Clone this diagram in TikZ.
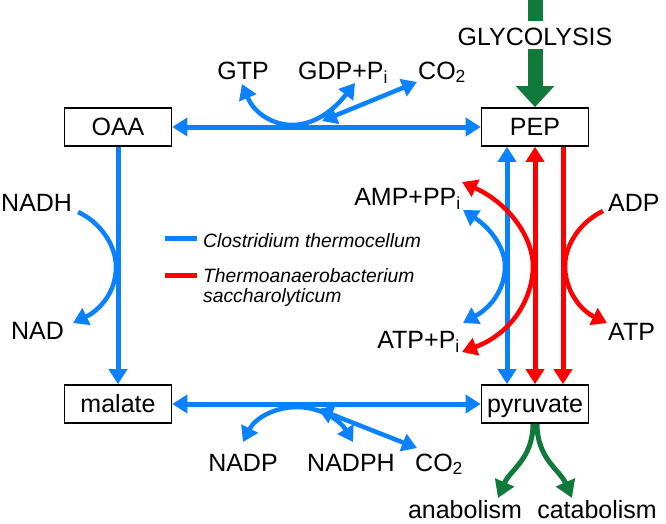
\documentclass[tikz,border=0pt]{standalone}
\usepackage{fontspec}
\setmainfont{Liberation Sans}
\usetikzlibrary{arrows.meta}
\definecolor{cblue}{RGB}{10,130,255}
\definecolor{cred}{RGB}{255,0,0}
\definecolor{cgreen}{RGB}{16,122,58}
\begin{document}
\begin{tikzpicture}[x=1pt,y=-1pt,
  >={Triangle[length=15pt,width=18pt]},
  box/.style={draw=black,line width=1.6pt,minimum width=107pt,minimum height=38pt,inner sep=0pt,text height=17pt,text depth=0pt,font=\fontsize{25}{30}\selectfont},
  lbl/.style={inner sep=0pt,font=\fontsize{25}{30}\selectfont},
  leg/.style={inner sep=0pt,font=\fontsize{19.3}{23}\selectfont\itshape},
  bl/.style={cblue,line width=5pt},
  blc/.style={cblue,line width=4.5pt},
  rd/.style={cred,line width=5pt},
  rdc/.style={cred,line width=4.5pt},
  gr/.style={cgreen,line width=5pt,-{Triangle[length=17pt,width=20pt]}}
]
\useasboundingbox (0,0) rectangle (666,523);
% boxes
\node[box] (oaa) at (118,127) {OAA};
\node[box] (pep) at (535,127) {PEP};
\node[box] (mal) at (118,404) {malate};
\node[box] (pyr) at (535,404) {pyruvate};
% labels
\node[lbl,anchor=base] (gly) at (535,45) {GLYCOLYSIS};
\node[lbl,anchor=base] (gtp) at (243,79) {GTP};
\node[lbl,anchor=base west] (gdp) at (298,79) {GDP+P\textsubscript{i}};
\node[lbl,anchor=base west] (co2a) at (418,79) {CO\textsubscript{2}};
\node[lbl,anchor=base west] (nadh) at (1,211) {NADH};
\node[lbl,anchor=base west] (nad) at (11,339) {NAD};
\node[lbl,anchor=base east] (amp) at (461,205) {AMP+PP\textsubscript{i}};
\node[lbl,anchor=base east] (atppi) at (460,348) {ATP+P\textsubscript{i}};
\node[lbl,anchor=base west] (adp) at (608,211) {ADP};
\node[lbl,anchor=base west] (atp) at (608,340) {ATP};
\node[lbl,anchor=base] (nadp) at (243,471) {NADP};
\node[lbl,anchor=base] (nadph) at (351,471) {NADPH};
\node[lbl,anchor=base west] (co2b) at (415,471) {CO\textsubscript{2}};
\node[lbl,anchor=base] (ana) at (465,518) {anabolism};
\node[lbl,anchor=base] (cata) at (597,518) {catabolism};
% legend
\coordinate (lb1) at (165,238); \coordinate (lb2) at (197,238);
\coordinate (lr1) at (165,275); \coordinate (lr2) at (197,275);
\draw[bl] (lb1) -- (lb2);
\draw[rd] (lr1) -- (lr2);
\node[leg,anchor=base west] (legb) at (203,247) {Clostridium thermocellum};
\node[leg,anchor=base west] (legr1) at (203,282) {Thermoanaerobacterium};
\node[leg,anchor=base west] (legr2) at (203,302) {saccharolyticum};
% main connectors
\draw[bl,<->] (oaa) -- (pep);
\draw[bl,->] (oaa) -- (mal);
\draw[bl,<->] (mal) -- (pyr);
\draw[bl,<->] ([xshift=-28pt]pep.south) -- ([xshift=-28pt]pyr.north);
\draw[rd,<->] (pep.south) -- (pyr.north);
\draw[rd,->] ([xshift=28pt]pep.south) -- ([xshift=28pt]pyr.north);
% glycolysis
\coordinate (gtop) at (535,-2);
\draw[cgreen,line width=15pt] (gtop) -- ([yshift=6pt]gly.north);
\draw[cgreen,line width=15pt,-{Triangle[length=21pt,width=37pt]}] ([yshift=-4pt]gly.south) -- (pep.north);
% top cofactors
\coordinate (t1) at (242,84);
\coordinate (t2) at (355,83);
\coordinate (t3) at (322,121);
\coordinate (t4) at (417,82);
\draw[blc,<->] (t1) .. controls (255,115) and (275,125) .. (292,125) .. controls (310,125) and (330,115) .. (t2);
\draw[blc,<->] (t3) -- (t4);
% bottom cofactors
\coordinate (b1) at (243,442);
\coordinate (b2) at (353,442);
\coordinate (b3) at (318,409);
\coordinate (b4) at (417,448);
\draw[blc,<->] (b1) .. controls (255,418) and (275,407) .. (297,407) .. controls (320,407) and (340,420) .. (b2);
\draw[blc,<->] (b3) -- (b4);
% NADH curve
\coordinate (n1) at (78,212);
\coordinate (n2) at (73,323);
\draw[blc,->] (n1) .. controls (100,222) and (116,245) .. (116,267) .. controls (116,292) and (100,310) .. (n2);
% right curves
\coordinate (ab1) at (463,210);
\coordinate (ab2) at (463,323);
\draw[blc,<->] (ab1) .. controls (493,230) and (505,250) .. (505,266) .. controls (505,285) and (495,305) .. (ab2);
\coordinate (ar1) at (462,182);
\coordinate (ar2) at (462,352);
\draw[rdc,<->] (ar1) .. controls (512,205) and (533,240) .. (533,266) .. controls (533,295) and (515,332) .. (ar2);
\coordinate (dr1) at (603,211);
\coordinate (dr2) at (607,323);
\draw[rdc,->] (dr1) .. controls (580,222) and (565,245) .. (565,266) .. controls (565,290) and (580,310) .. (dr2);
% green bottom
\coordinate (gan) at (498,498);
\coordinate (gca) at (572,498);
\draw[gr] ([xshift=-2pt]pyr.south) .. controls +(0,35) and +(12,-28) .. (gan);
\draw[gr] ([xshift=2pt]pyr.south) .. controls +(0,35) and +(-12,-28) .. (gca);
\end{tikzpicture}
\end{document}
